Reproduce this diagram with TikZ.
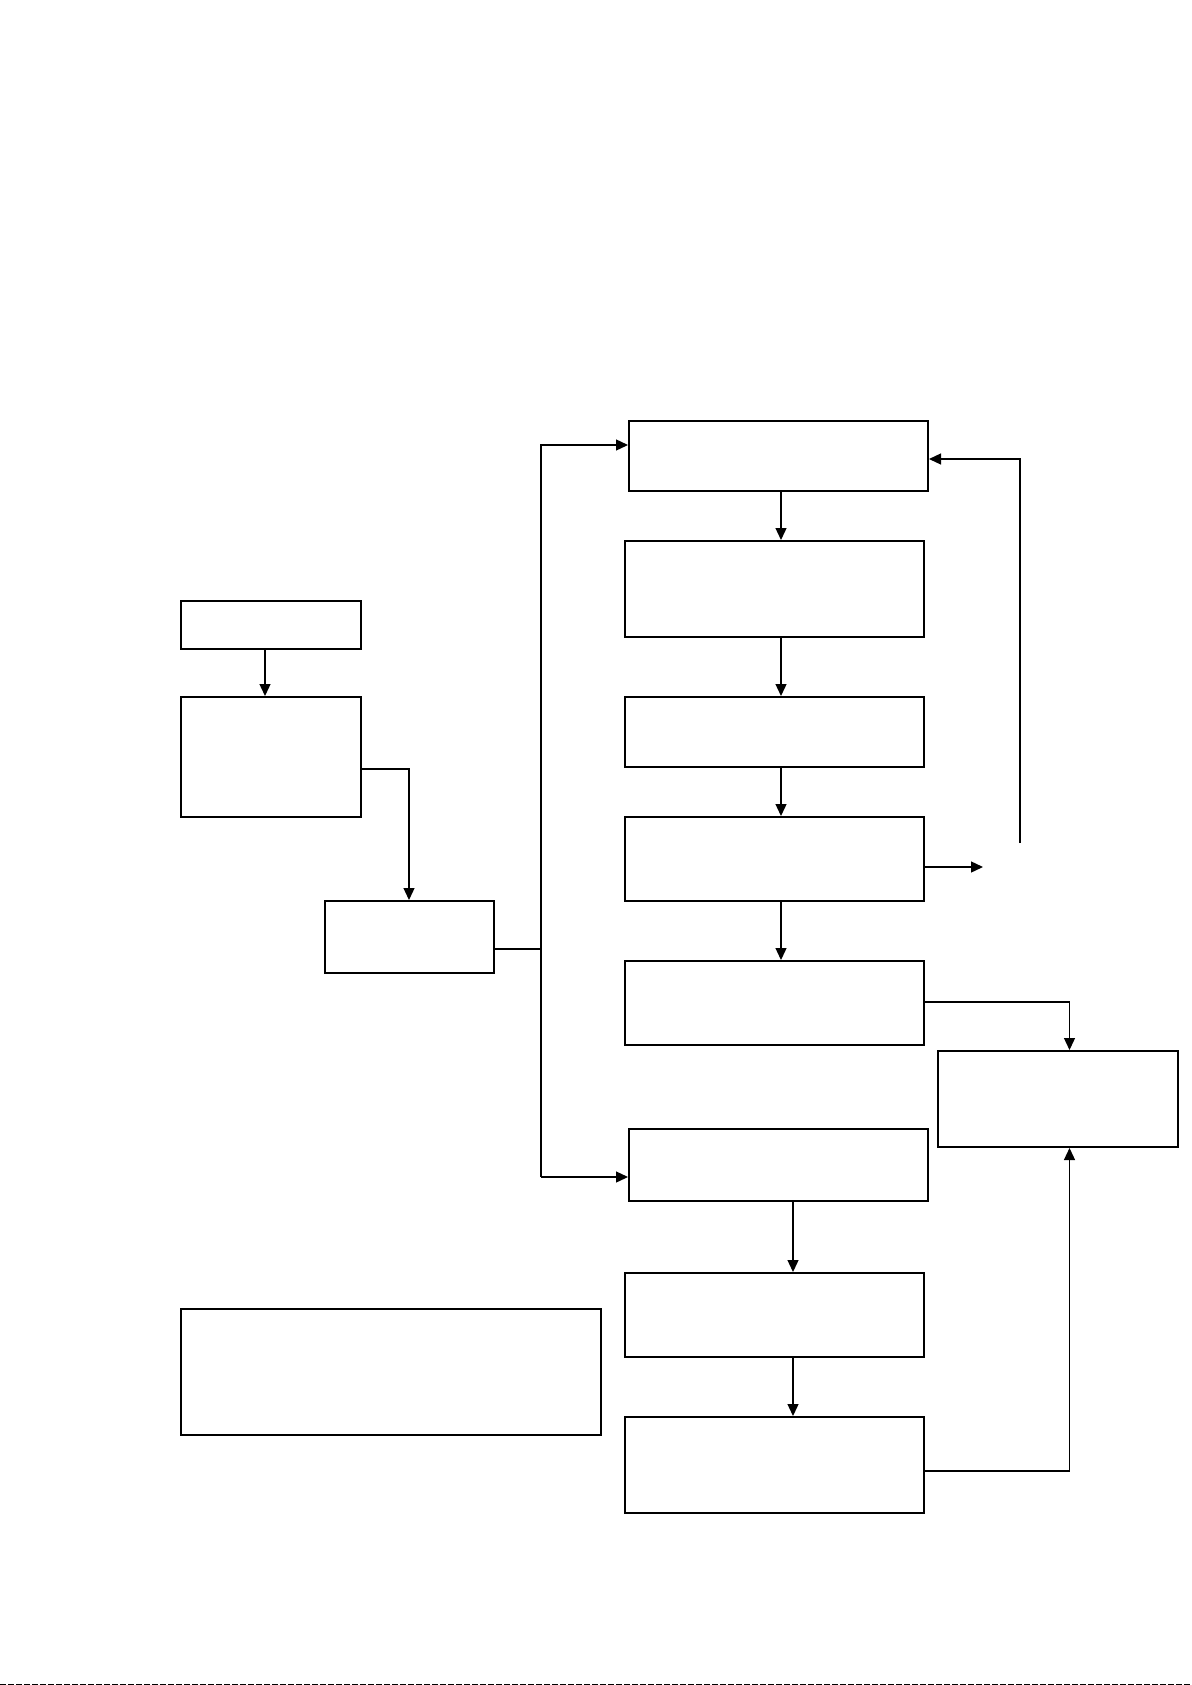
\documentclass[tikz,border=0pt]{standalone}
\usetikzlibrary{arrows.meta,fit}
\begin{document}
\begin{tikzpicture}[x=1pt,y=-1pt,
  box/.style={draw=black,line width=2pt,inner sep=0pt,fill=white},
  conn/.style={draw=black,line width=1.3pt},
  arr/.style={conn,-{Triangle[length=12pt,width=11pt]}}]
\useasboundingbox (0,0) rectangle (1191,1685);
\fill[white] (0,0) rectangle (1191,1685);
% boxes
\node[box,fit={(629,421) (928,491)}] (A) {};
\node[box,fit={(625,541) (924,637)}] (B) {};
\node[box,fit={(625,697) (924,767)}] (C) {};
\node[box,fit={(625,817) (924,901)}] (D) {};
\node[box,fit={(625,961) (924,1045)}] (E) {};
\node[box,fit={(938,1051) (1178,1147)}] (F) {};
\node[box,fit={(629,1129) (928,1201)}] (G) {};
\node[box,fit={(625,1273) (924,1357)}] (H) {};
\node[box,fit={(625,1417) (924,1513)}] (I) {};
\node[box,fit={(181,601) (361,649)}] (L1) {};
\node[box,fit={(181,697) (361,817)}] (L2) {};
\node[box,fit={(325,901) (494,973)}] (L3) {};
\node[box,fit={(181,1309) (601,1435)}] (N) {};
% guide coordinates
\coordinate (xm) at (781,0);
\coordinate (xm2) at (793,0);
\coordinate (xs) at (541,0);
\coordinate (xr) at (1069.5,0);
\coordinate (xl) at (265,0);
\coordinate (xl3) at (409,0);
\coordinate (yA) at (0,445);
\coordinate (yG) at (0,1177);
\coordinate (yL2) at (0,769);
\coordinate (yL3) at (0,949);
\coordinate (yfb) at (0,459);
\coordinate (yD) at (0,867);
\coordinate (yE) at (0,1002);
\coordinate (yI) at (0,1471);
\coordinate (fbstart) at (1020,843);
\coordinate (dend) at (983,867);
% left chain
\draw[arr] (L1.south -| xl) -- (L2.north -| xl);
\draw[arr] (L2.east |- yL2) -| (L3.north -| xl3);
\draw[conn] (L3.east |- yL3) -- (xs |- yL3);
\draw[arr] (xs |- yG) |- (A.west |- yA);
\draw[arr] (xs |- yG) -- (G.west |- yG);
% main column
\draw[arr] (A.south -| xm) -- (B.north -| xm);
\draw[arr] (B.south -| xm) -- (C.north -| xm);
\draw[arr] (C.south -| xm) -- (D.north -| xm);
\draw[arr] (D.south -| xm) -- (E.north -| xm);
\draw[arr] (D.east |- yD) -- (dend);
\draw[arr] (fbstart) |- (A.east |- yfb);
\draw[arr] (E.east |- yE) -| (F.north -| xr);
% lower column
\draw[arr] (G.south -| xm2) -- (H.north -| xm2);
\draw[arr] (H.south -| xm2) -- (I.north -| xm2);
\draw[arr] (I.east |- yI) -| (F.south -| xr);
% bottom edge strip
\draw[line width=1pt,black,dash pattern=on 6pt off 2pt] (0,1684.5) -- (1191,1684.5);
\end{tikzpicture}
\end{document}
